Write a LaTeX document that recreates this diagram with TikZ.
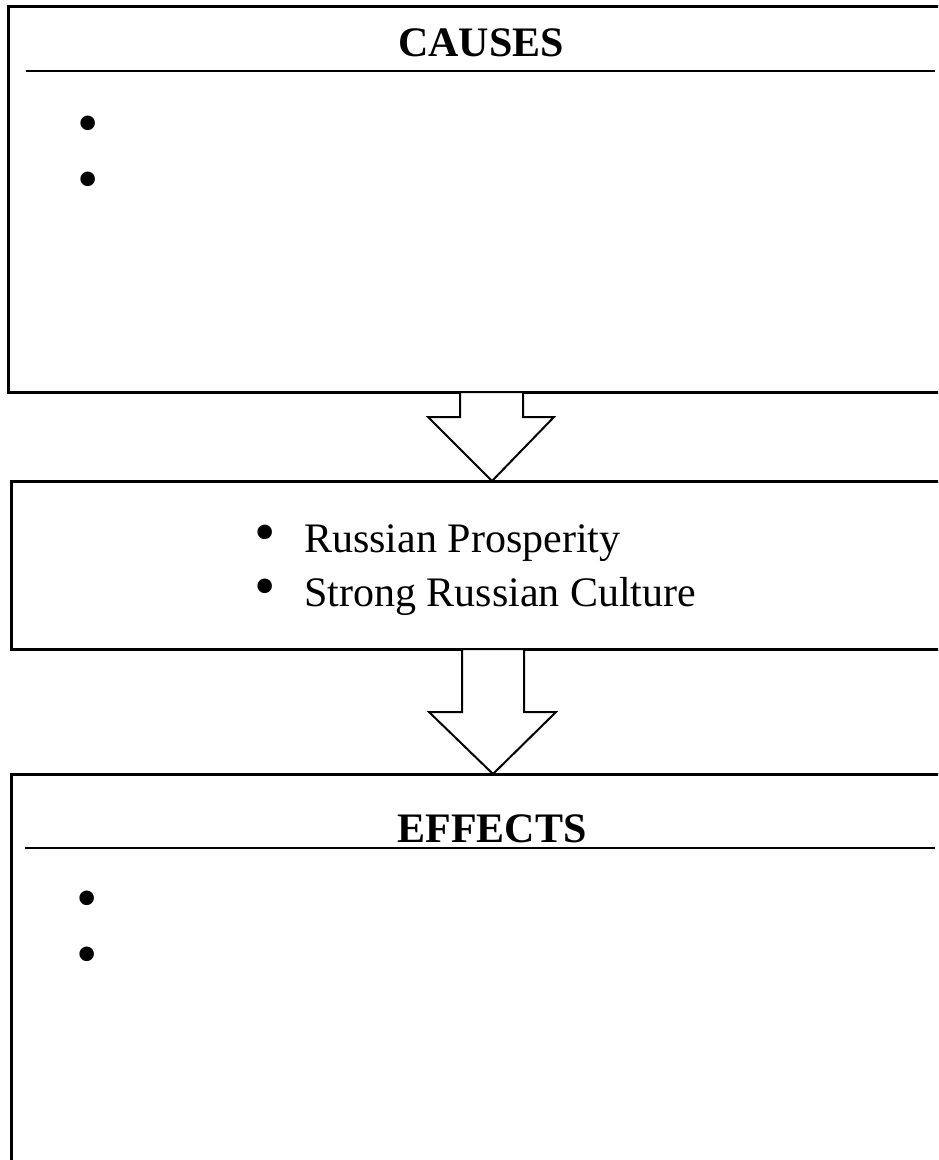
\documentclass[tikz,border=0pt]{standalone}
\usepackage{fontspec}
\setmainfont{Liberation Serif}
\usetikzlibrary{calc}
\newcommand{\bigbul}{\smash{\scalebox{1.45}{•}}}
\begin{document}
\begin{tikzpicture}[x=1pt,y=-1pt,
  box/.style={draw, line width=3pt, rectangle, anchor=north west, inner sep=0pt, outer sep=0pt},
  rulerline/.style={line width=1.5pt},
  blockarrow/.style={draw, fill=white, line width=2pt, line join=miter},
  title/.style={font=\fontsize{42}{50}\selectfont\bfseries, anchor=base, inner sep=0pt},
  item/.style={font=\fontsize{42}{50}\selectfont, anchor=base west, inner sep=0pt}]
\useasboundingbox (0,0) rectangle (938,1160);
\clip (0,0) rectangle (938,1160);
% boxes
\node[box, minimum width=970pt, minimum height=386pt] (causes) at (8,6) {};
\node[box, minimum width=970pt, minimum height=168pt] (middle) at (11,481) {};
\node[box, minimum width=970pt, minimum height=500pt] (effects) at (11,774) {};
% causes content
\node[title] (causesT) at (481,56) {CAUSES};
\coordinate (c1) at (26,71);
\coordinate (c2) at (935,71);
\draw[rulerline] (c1) -- (c2);
\node[item] (cb1) at (77.5,143) {\bigbul};
\node[item] (cb2) at (77.5,199) {\bigbul};
% middle content
\node[item] (m1) at (254.5,552) {\makebox[49.5pt][l]{\bigbul}Russian Prosperity};
\node[item] (m2) at (254.5,606) {\makebox[49.5pt][l]{\bigbul}Strong Russian Culture};
% effects content
\node[title] (effectsT) at (492,842) {EFFECTS};
\coordinate (e1) at (25,848);
\coordinate (e2) at (935,848);
\draw[rulerline] (e1) -- (e2);
\node[item] (eb1) at (76.5,918) {\bigbul};
\node[item] (eb2) at (76.5,974) {\bigbul};
% arrows
\coordinate (a1t) at ($(causes.south west)+(484,0)$);
\coordinate (a1b) at ($(middle.north west)+(481,0)$);
\draw[blockarrow] ($(a1t)+(-32,0)$) -- ($(a1t)+(-32,25)$) -- ($(a1t)+(-64,25)$) -- (a1b)
  -- ($(a1t)+(62,25)$) -- ($(a1t)+(31,25)$) -- ($(a1t)+(31,0)$) -- cycle;
\coordinate (a2t) at ($(middle.south west)+(482,0)$);
\coordinate (a2b) at ($(effects.north west)+(482,0)$);
\draw[blockarrow] ($(a2t)+(-31,0)$) -- ($(a2t)+(-31,63)$) -- ($(a2t)+(-64,63)$) -- (a2b)
  -- ($(a2t)+(63,63)$) -- ($(a2t)+(31,63)$) -- ($(a2t)+(31,0)$) -- cycle;
\end{tikzpicture}
\end{document}
